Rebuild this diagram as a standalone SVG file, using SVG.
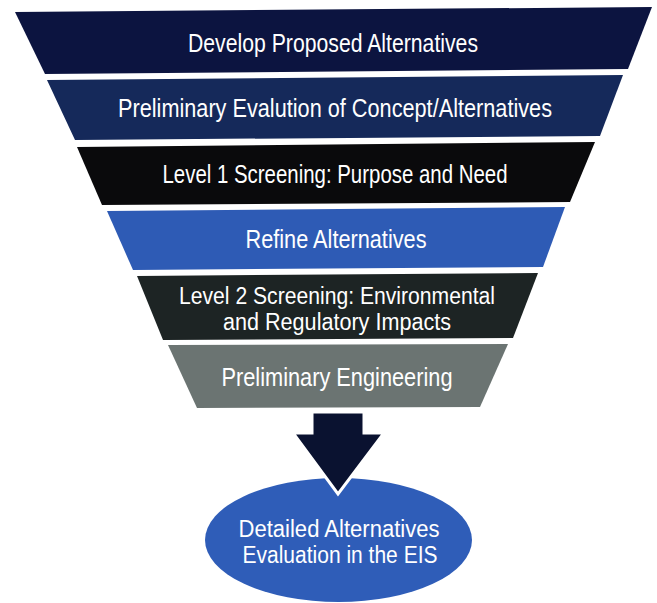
<svg xmlns="http://www.w3.org/2000/svg" width="657" height="603" viewBox="0 0 657 603">
<style>
.lbl{font-family:"Liberation Sans","DejaVu Sans",sans-serif;font-size:26px;fill:#ffffff;text-anchor:middle}
.two{font-size:23px}
</style>
<rect width="657" height="603" fill="#ffffff"/>
<g id="band1"><polygon points="15,12 652,7 628,69 45,74" fill="#0c1440"/><text class="lbl" x="333" y="52" textLength="290" lengthAdjust="spacingAndGlyphs">Develop Proposed Alternatives</text></g>
<g id="band2"><polygon points="47,80 623,75 600,136 75,140" fill="#15295a"/><text class="lbl" x="335" y="117" textLength="434" lengthAdjust="spacingAndGlyphs">Preliminary Evalution of Concept/Alternatives</text></g>
<g id="band3"><polygon points="77,147 595,142 570,202 102,205" fill="#0a0a0c"/><text class="lbl" x="335" y="183" textLength="345" lengthAdjust="spacingAndGlyphs">Level 1 Screening: Purpose and Need</text></g>
<g id="band4"><polygon points="107,211 565,207 543,267 133,270" fill="#2e5bb5"/><text class="lbl" x="336" y="248" textLength="181" lengthAdjust="spacingAndGlyphs">Refine Alternatives</text></g>
<g id="band5"><polygon points="137,276 538,273 513,338 163,340" fill="#1d2424"/><text class="lbl two" x="337" y="304" textLength="316" lengthAdjust="spacingAndGlyphs">Level 2 Screening: Environmental</text><text class="lbl two" x="337" y="330" textLength="228" lengthAdjust="spacingAndGlyphs">and Regulatory Impacts</text></g>
<g id="band6"><polygon points="168,345 508,344 480,407 197,408" fill="#6b7472"/><text class="lbl" x="337" y="386" textLength="231" lengthAdjust="spacingAndGlyphs">Preliminary Engineering</text></g>
<g id="result"><ellipse cx="338.5" cy="540" rx="133.5" ry="62" fill="#2f5db8"/><text class="lbl two" x="339" y="537" textLength="201" lengthAdjust="spacingAndGlyphs">Detailed Alternatives</text><text class="lbl two" x="340" y="563" textLength="195" lengthAdjust="spacingAndGlyphs">Evaluation in the EIS</text></g>
<g id="connectors"><polygon points="312,412 364,412 364,433 384,433 338,494 293,433 312,433" fill="#0a1230" stroke="#ffffff" stroke-width="3" stroke-linejoin="miter"/></g>
</svg>
